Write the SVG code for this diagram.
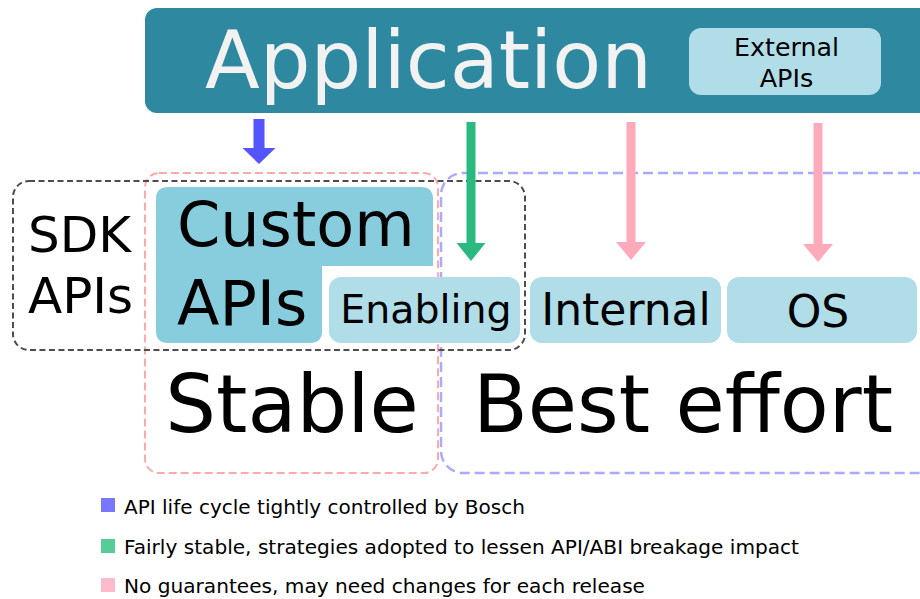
<svg xmlns="http://www.w3.org/2000/svg" width="920" height="599" viewBox="0 0 920 599">
<defs>
<style>
text{font-family:"DejaVu Sans","Noto Sans",sans-serif;fill:#000}
.box{fill:#b0dde8}
.dash{fill:none}
.lg{font-size:20px}
</style>
</defs>
<g id="application">
<rect x="145" y="8" width="790" height="105" rx="12" fill="#2e89a0"/>
<text x="205" y="88" font-size="80" style="fill:#f2f2f2">Application</text>
</g>
<g id="external-apis">
<rect x="689" y="28" width="192" height="67" rx="12" class="box"/>
<text x="786.5" y="56" font-size="25.5" text-anchor="middle" textLength="105" lengthAdjust="spacingAndGlyphs">External</text>
<text x="786.5" y="87" font-size="25.5" text-anchor="middle">APIs</text>
</g>
<g id="stable-region">
<rect x="145" y="173" width="293" height="300" rx="14" class="dash" stroke="#ffaaaa" stroke-width="2" stroke-dasharray="8 4"/>
<text x="292" y="432" font-size="80" text-anchor="middle">Stable</text>
</g>
<g id="best-effort-region">
<rect x="441" y="173" width="500" height="300" rx="22" class="dash" stroke="#aaaaff" stroke-width="2.5" stroke-dasharray="10 5"/>
<text x="683" y="432" font-size="80" text-anchor="middle">Best effort</text>
</g>
<g id="custom-apis">
<path d="M168,187 H421 Q433,187 433,199 V266 H322 V331 Q322,343 310,343 H168 Q156,343 156,331 V199 Q156,187 168,187 Z" fill="#88cddd"/>
<text x="177" y="246" font-size="62">Custom</text>
<text x="177" y="325" font-size="62">APIs</text>
</g>
<g id="enabling">
<rect x="329" y="277" width="191" height="66" rx="12" class="box"/>
<text x="426" y="323" font-size="39.5" text-anchor="middle">Enabling</text>
</g>
<g id="internal">
<rect x="530" y="277" width="191" height="66" rx="12" class="box"/>
<text x="626" y="325" font-size="44" text-anchor="middle">Internal</text>
</g>
<g id="os">
<rect x="727" y="277" width="190" height="66" rx="12" class="box"/>
<text x="818" y="327" font-size="44" text-anchor="middle">OS</text>
</g>
<g id="sdk-apis">
<rect x="13" y="181" width="512" height="169" rx="16" class="dash" stroke="#4d4d4d" stroke-width="2" stroke-dasharray="6 3.5"/>
<text x="28" y="252" font-size="50">SDK</text>
<text x="28" y="313" font-size="50">APIs</text>
</g>
<g id="connectors">
<path d="M253.5,119 H264.5 V148 H275.5 L259,164 L242.5,148 H253.5 Z" fill="#5555ff"/>
<path d="M466.5,122 H475.5 V243 H485.5 L471,261 L456.5,243 H466.5 Z" fill="#2aba80"/>
<path d="M626.5,122 H635.5 V242 H646 L631,260 L616,242 H626.5 Z" fill="#ffaabb"/>
<path d="M813.5,123 H822.5 V244 H833 L818,262 L803,244 H813.5 Z" fill="#ffaabb"/>
</g>
<g id="legend">
<rect x="101" y="498" width="14" height="14" fill="#7777ff"/>
<text x="124" y="514" class="lg" textLength="401" lengthAdjust="spacingAndGlyphs">API life cycle tightly controlled by Bosch</text>
<rect x="101" y="539" width="14" height="14" fill="#55cc99"/>
<text x="124" y="554" class="lg" textLength="675" lengthAdjust="spacingAndGlyphs">Fairly stable, strategies adopted to lessen API/ABI breakage impact</text>
<rect x="101" y="578" width="14" height="14" fill="#ffbbcc"/>
<text x="124" y="593" class="lg" textLength="521" lengthAdjust="spacingAndGlyphs">No guarantees, may need changes for each release</text>
</g>
</svg>
